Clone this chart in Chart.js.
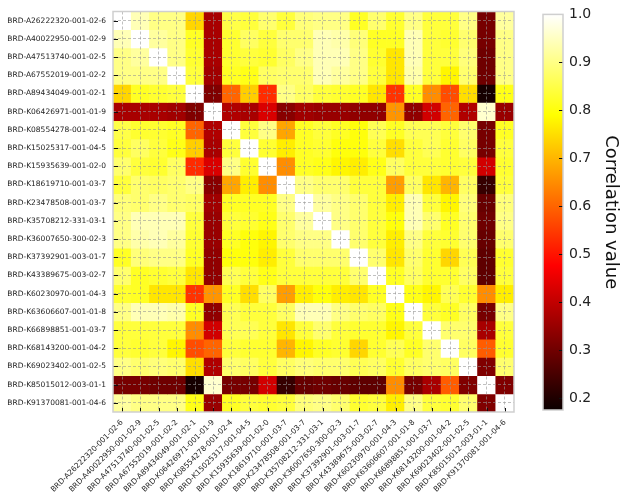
<!DOCTYPE html>
<html>
<head>
<meta charset="utf-8">
<script src="https://cdn.jsdelivr.net/npm/chart.js@4.4.1/dist/chart.umd.min.js"></script>
<style>
  html, body { margin: 0; padding: 0; background: #fff; }
  #wrap { position: relative; width: 625px; height: 501px; }
  #heat { position: absolute; left: 0; top: 0; }
  #bar { position: absolute; left: 520px; top: 0; }
</style>
</head>
<body>
<div id="wrap">
  <canvas id="heat" width="520" height="501"></canvas>
  <canvas id="bar" width="105" height="501"></canvas>
</div>
<script>
// sample ids (same order on both axes)
const samples = [
  "BRD-A26222320-001-02-6", "BRD-A40022950-001-02-9", "BRD-A47513740-001-02-5",
  "BRD-A67552019-001-02-2", "BRD-A89434049-001-02-1", "BRD-K06426971-001-01-9",
  "BRD-K08554278-001-02-4", "BRD-K15025317-001-04-5", "BRD-K15935639-001-02-0",
  "BRD-K18619710-001-03-7", "BRD-K23478508-001-03-7", "BRD-K35708212-331-03-1",
  "BRD-K36007650-300-02-3", "BRD-K37392901-003-01-7", "BRD-K43389675-003-02-7",
  "BRD-K60230970-001-04-3", "BRD-K63606607-001-01-8", "BRD-K66898851-001-03-7",
  "BRD-K68143200-001-04-2", "BRD-K69023402-001-02-5", "BRD-K85015012-003-01-1",
  "BRD-K91370081-001-04-6"
];

// correlation values, one row per sample
const corr = [
  [1.00, .94, .90, .90, .74, .37, .85, .84, .88, .84, .89, .90, .90, .82, .88, .83, .90, .84, .84, .90, .31, .92],
  [.94, 1.00, .92, .90, .82, .37, .83, .87, .84, .88, .88, .94, .93, .89, .82, .82, .94, .84, .83, .88, .31, .90],
  [.90, .92, 1.00, .90, .83, .37, .83, .84, .83, .87, .90, .94, .94, .90, .83, .76, .94, .84, .84, .89, .30, .90],
  [.90, .90, .90, 1.00, .84, .36, .82, .81, .87, .88, .88, .94, .92, .90, .84, .76, .93, .84, .78, .88, .30, .90],
  [.74, .82, .83, .84, 1.00, .32, .60, .73, .53, .90, .87, .84, .83, .82, .76, .54, .82, .65, .57, .75, .19, .81],
  [.37, .37, .37, .36, .32, 1.00, .38, .37, .43, .33, .36, .35, .35, .34, .34, .66, .34, .42, .60, .38, .96, .35],
  [.85, .83, .83, .82, .60, .38, 1.00, .84, .90, .68, .82, .84, .82, .80, .86, .82, .86, .86, .84, .88, .31, .82],
  [.84, .87, .84, .81, .73, .37, .84, 1.00, .83, .77, .82, .83, .80, .80, .84, .75, .84, .86, .83, .87, .31, .84],
  [.88, .84, .83, .87, .53, .43, .90, .83, 1.00, .65, .82, .81, .78, .77, .81, .87, .84, .84, .83, .84, .42, .83],
  [.84, .88, .87, .88, .90, .33, .68, .77, .65, 1.00, .90, .88, .88, .84, .84, .67, .87, .76, .70, .87, .23, .84],
  [.89, .88, .90, .88, .87, .36, .82, .82, .82, .90, 1.00, .92, .90, .88, .84, .77, .94, .84, .78, .89, .29, .89],
  [.90, .94, .94, .94, .84, .35, .84, .83, .81, .88, .92, 1.00, .90, .88, .84, .80, .94, .88, .82, .88, .30, .90],
  [.90, .93, .94, .92, .83, .35, .82, .80, .78, .88, .90, .90, 1.00, .88, .84, .77, .90, .84, .83, .88, .29, .88],
  [.82, .89, .90, .90, .82, .34, .80, .80, .77, .84, .88, .88, .88, 1.00, .88, .76, .88, .83, .74, .86, .28, .83],
  [.88, .82, .83, .84, .76, .34, .86, .84, .81, .84, .84, .84, .84, .88, 1.00, .82, .87, .83, .83, .87, .28, .84],
  [.83, .82, .76, .76, .54, .66, .82, .75, .87, .67, .77, .80, .77, .76, .82, 1.00, .81, .78, .86, .83, .65, .77],
  [.90, .94, .94, .93, .82, .34, .86, .84, .84, .87, .94, .94, .90, .88, .87, .81, 1.00, .84, .82, .87, .31, .90],
  [.84, .84, .84, .84, .65, .42, .86, .86, .84, .76, .84, .88, .84, .83, .83, .78, .84, 1.00, .88, .88, .37, .84],
  [.84, .83, .84, .78, .57, .60, .84, .83, .83, .70, .78, .82, .83, .74, .83, .86, .82, .88, 1.00, .87, .59, .83],
  [.90, .88, .89, .88, .75, .38, .88, .87, .84, .87, .89, .88, .88, .86, .87, .83, .87, .88, .87, 1.00, .32, .88],
  [.31, .31, .30, .30, .19, .96, .31, .31, .42, .23, .29, .30, .29, .28, .28, .65, .31, .37, .59, .32, 1.00, .32],
  [.92, .90, .90, .90, .81, .35, .82, .84, .83, .84, .89, .90, .88, .83, .84, .77, .90, .84, .83, .88, .32, 1.00]
];

// colour bar range and ticks
const vmin = 0.176;
const vmax = 1.0;
const cbTicks = [0.2, 0.3, 0.4, 0.5, 0.6, 0.7, 0.8, 0.9, 1.0];

Chart.defaults.font.family = "'DejaVu Sans', sans-serif";
Chart.defaults.color = "#222";

// matplotlib "hot" colormap, t in 0..1
function hotAt(t) {
  t = Math.max(0, Math.min(1, t));
  const r = Math.min(1, 0.0416 + t / 0.365079 * 0.9584);
  const g = Math.max(0, Math.min(1, (t - 0.365079) / (0.746032 - 0.365079)));
  const b = Math.max(0, Math.min(1, (t - 0.746032) / (1 - 0.746032)));
  return `rgb(${Math.round(r * 255)},${Math.round(g * 255)},${Math.round(b * 255)})`;
}
function hot(v) {
  return hotAt((v - vmin) / (vmax - vmin));
}

// light frame plus small inward tick marks
const framePlugin = {
  id: "frame",
  afterDraw(chart, args, opts) {
    const { ctx, chartArea: a } = chart;
    ctx.save();
    ctx.strokeStyle = "#111";
    ctx.lineWidth = 1;
    ctx.beginPath();
    if (opts.bottom) {
      const s = chart.scales.x;
      s.ticks.forEach((t, i) => {
        const px = Math.round(s.getPixelForTick(i)) + 0.5;
        ctx.moveTo(px, a.bottom);
        ctx.lineTo(px, a.bottom - 4);
      });
    }
    if (opts.left || opts.right) {
      const s = chart.scales.y;
      s.ticks.forEach((t) => {
        const py = Math.round(s.getPixelForValue(t.value)) + 0.5;
        if (opts.left) { ctx.moveTo(a.left, py); ctx.lineTo(a.left + 5, py); }
        if (opts.right) { ctx.moveTo(a.right - 4, py); ctx.lineTo(a.right, py); }
      });
    }
    ctx.stroke();
    ctx.strokeStyle = "#cfcfcf";
    ctx.lineWidth = 1.5;
    ctx.strokeRect(a.left, a.top, a.width, a.height);
    ctx.restore();
  }
};

const gridOpts = {
  offset: false,
  z: 1,
  color: "rgba(150,150,150,0.75)",
  lineWidth: 0.8,
  drawTicks: false
};

// one floating-bar dataset per row of the matrix
const heatSets = corr.map((row, i) => ({
  label: samples[i],
  data: row.map(() => [i, i + 1]),
  backgroundColor: row.map((v) => hot(v)),
  borderWidth: 0,
  grouped: false,
  barPercentage: 1,
  categoryPercentage: 1
}));

new Chart(document.getElementById("heat").getContext("2d"), {
  type: "bar",
  data: { labels: samples, datasets: heatSets },
  options: {
    responsive: false,
    animation: false,
    layout: { padding: { left: 0, right: 6, top: 11, bottom: 0 } },
    plugins: {
      legend: { display: false },
      tooltip: { enabled: false },
      frame: { bottom: true, left: true }
    },
    scales: {
      x: {
        type: "category",
        offset: true,
        grid: gridOpts,
        border: { display: false, dash: [3, 2] },
        ticks: {
          autoSkip: false,
          minRotation: 45,
          maxRotation: 45,
          padding: 6,
          font: { size: 7.5 }
        },
        afterFit: (s) => { s.height = 89; }
      },
      y: {
        type: "linear",
        min: 0,
        max: samples.length,
        reverse: true,
        grid: gridOpts,
        border: { display: false, dash: [3, 2] },
        ticks: {
          autoSkip: false,
          padding: 7,
          font: { size: 7.5 },
          callback: (v, i) => samples[i]
        },
        afterBuildTicks: (s) => { s.ticks = samples.map((_, i) => ({ value: i + 0.5 })); },
        afterFit: (s) => { s.width = 113; }
      }
    }
  },
  plugins: [framePlugin]
});

// colour bar
new Chart(document.getElementById("bar").getContext("2d"), {
  type: "bar",
  data: {
    labels: [""],
    datasets: [{
      data: [[vmin, vmax]],
      backgroundColor: (c) => {
        const area = c.chart.chartArea;
        if (!area) return "#000";
        const g = c.chart.ctx.createLinearGradient(0, area.bottom, 0, area.top);
        [0, 0.365079, 0.746032, 1].forEach((t) => g.addColorStop(t, hotAt(t)));
        return g;
      },
      borderWidth: 0,
      barPercentage: 1,
      categoryPercentage: 1
    }]
  },
  options: {
    responsive: false,
    animation: false,
    layout: { padding: { left: 23, right: 0, top: 11, bottom: 91 } },
    plugins: {
      legend: { display: false },
      tooltip: { enabled: false },
      frame: { right: true }
    },
    scales: {
      x: { display: false },
      y: {
        position: "right",
        min: vmin,
        max: vmax,
        grid: { display: false, drawTicks: false },
        border: { display: false },
        ticks: {
          padding: 6,
          font: { size: 14 },
          callback: (v) => v.toFixed(1)
        },
        afterBuildTicks: (s) => { s.ticks = cbTicks.map((v) => ({ value: v })); },
        title: {
          display: true,
          text: "Correlation value",
          font: { size: 18 },
          color: "#111",
          padding: { top: 4, bottom: 0 }
        },
        afterFit: (s) => { s.width = 62; }
      }
    }
  },
  plugins: [framePlugin]
});
</script>
</body>
</html>
